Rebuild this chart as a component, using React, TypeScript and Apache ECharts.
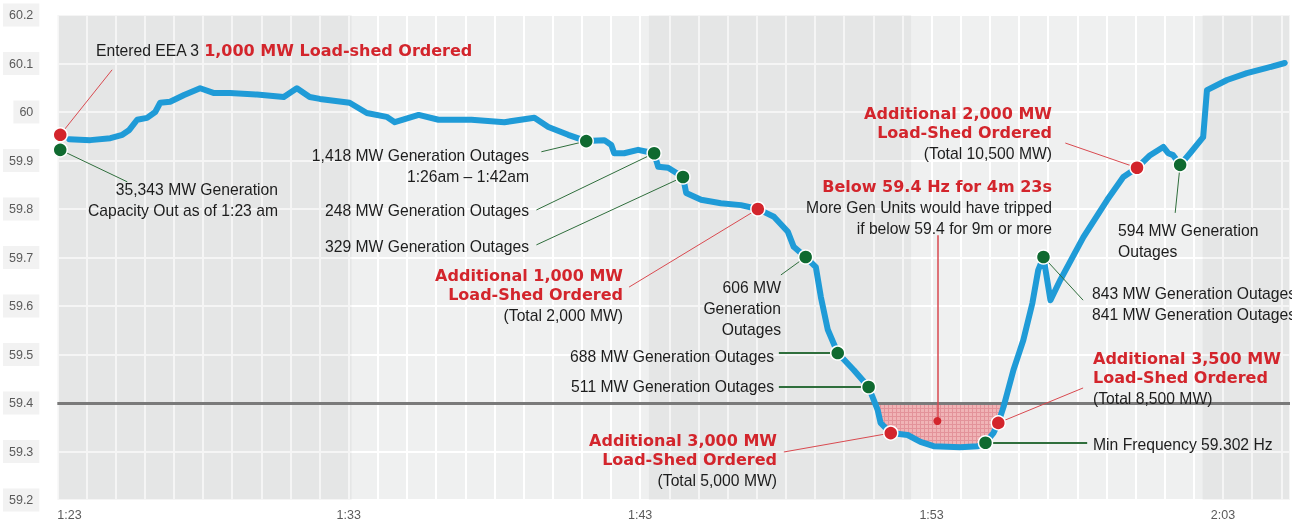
import React, { useEffect, useRef } from 'react';
import * as echarts from 'echarts';

// x values are minutes after 1:23 am; y values are frequency in Hz
const xTickLabels = ['1:23', '1:33', '1:43', '1:53', '2:03'];
const threshold = 59.4;

const frequency: [number, number][] = [
  [0.41, 59.944], [1.13, 59.942], [1.82, 59.946], [2.23, 59.953], [2.47, 59.963], [2.74, 59.984],
  [3.08, 59.988], [3.36, 60.0], [3.53, 60.019], [3.87, 60.021], [4.35, 60.035], [4.9, 60.049],
  [5.38, 60.039], [5.92, 60.039], [6.85, 60.036], [7.77, 60.031], [8.22, 60.049], [8.66, 60.031],
  [9.01, 60.027], [10.03, 60.019], [10.62, 59.998], [11.3, 59.99], [11.58, 59.979], [12.4, 59.994],
  [13.08, 59.984], [14.21, 59.984], [15.34, 59.979], [16.37, 59.988], [16.85, 59.969], [17.53, 59.953],
  [18.15, 59.94], [18.77, 59.942], [19.01, 59.932], [19.11, 59.915], [19.45, 59.915], [19.93, 59.922],
  [20.48, 59.915], [20.62, 59.887], [20.96, 59.885], [21.47, 59.866], [21.58, 59.833], [22.09, 59.819],
  [22.77, 59.812], [23.46, 59.808], [24.04, 59.8], [24.59, 59.784], [25.07, 59.753], [25.27, 59.722],
  [25.68, 59.701], [26.03, 59.68], [26.2, 59.619], [26.44, 59.551], [26.78, 59.503], [27.33, 59.468],
  [27.84, 59.433], [28.15, 59.386], [28.25, 59.359], [28.6, 59.338], [29.18, 59.334], [29.62, 59.32],
  [30.07, 59.311], [30.99, 59.309], [31.58, 59.311], [31.85, 59.318], [32.12, 59.338], [32.29, 59.359],
  [32.47, 59.392], [32.6, 59.421], [32.81, 59.468], [33.15, 59.53], [33.46, 59.606], [33.66, 59.674],
  [33.84, 59.701], [34.08, 59.612], [34.42, 59.654], [35.21, 59.742], [36.03, 59.819], [36.58, 59.866],
  [37.05, 59.885], [37.5, 59.911], [37.95, 59.928], [38.12, 59.915], [38.29, 59.911], [38.53, 59.891],
  [38.87, 59.915], [39.32, 59.948], [39.45, 60.045], [40.14, 60.066], [40.82, 60.08], [41.51, 60.091],
  [42.12, 60.101],
];

// portion of the curve below 59.4 Hz (shaded)
const belowThreshold: [number, number][] = [
  [28.05, 59.4], [28.15, 59.386], [28.25, 59.359], [28.6, 59.338], [29.18, 59.334], [29.62, 59.32],
  [30.07, 59.311], [30.99, 59.309], [31.58, 59.311], [31.85, 59.318], [32.12, 59.338], [32.29, 59.359],
  [32.47, 59.392], [32.5, 59.4],
];

const loadShedEvents: [number, number][] = [
  [0.1, 59.953], [24.04, 59.8], [28.6, 59.338], [32.29, 59.359], [37.05, 59.885],
];
const outageEvents: [number, number][] = [
  [0.1, 59.922], [18.15, 59.94], [20.48, 59.915], [21.47, 59.866], [25.68, 59.701],
  [26.78, 59.503], [27.84, 59.433], [31.85, 59.318], [33.84, 59.701], [38.53, 59.891],
];
const belowMarker: [number, number][] = [[30.2, 59.363]];

const darkBands: [number, number][] = [[0, 10.1], [20.3, 29.3], [39.3, 42.3]];

// leader lines: [from, to, colour kind, width]
const leaders: [[number, number], [number, number], 'r' | 'g', number][] = [
  [[0.1, 59.953], [1.88, 60.087], 'r', 1],
  [[0.1, 59.922], [2.4, 59.856], 'g', 1],
  [[18.15, 59.94], [16.61, 59.918], 'g', 1],
  [[20.48, 59.915], [16.44, 59.798], 'g', 1],
  [[21.47, 59.866], [16.44, 59.726], 'g', 1],
  [[24.04, 59.8], [19.62, 59.639], 'r', 1],
  [[25.68, 59.701], [24.83, 59.664], 'g', 1],
  [[26.78, 59.503], [24.76, 59.503], 'g', 2],
  [[27.84, 59.433], [24.76, 59.433], 'g', 2],
  [[28.6, 59.338], [24.93, 59.299], 'r', 1],
  [[32.29, 59.359], [35.2, 59.431], 'r', 1],
  [[31.85, 59.318], [35.34, 59.318], 'g', 2],
  [[33.84, 59.701], [35.2, 59.612], 'g', 1],
  [[37.05, 59.885], [34.59, 59.936], 'r', 1],
  [[38.53, 59.891], [38.36, 59.792], 'g', 1],
  [[30.2, 59.746], [30.2, 59.363], 'r', 1.5],
];

type Line = { t: string; red?: boolean };
const notes: { x: number; y: number; align: 'left' | 'right'; lines: Line[] }[] = [
  { x: 278, y: 189, align: 'right', lines: [{ t: '35,343 MW Generation' }, { t: 'Capacity Out as of 1:23 am' }] },
  { x: 529, y: 155, align: 'right', lines: [{ t: '1,418 MW Generation Outages' }, { t: '1:26am \u2013 1:42am' }] },
  { x: 529, y: 210, align: 'right', lines: [{ t: '248 MW Generation Outages' }] },
  { x: 529, y: 246, align: 'right', lines: [{ t: '329 MW Generation Outages' }] },
  { x: 623, y: 275, align: 'right', lines: [{ t: 'Additional 1,000 MW', red: true }, { t: 'Load-Shed Ordered', red: true }, { t: '(Total 2,000 MW)' }] },
  { x: 781, y: 287, align: 'right', lines: [{ t: '606 MW' }, { t: 'Generation' }, { t: 'Outages' }] },
  { x: 774, y: 356, align: 'right', lines: [{ t: '688 MW Generation Outages' }] },
  { x: 774, y: 386, align: 'right', lines: [{ t: '511 MW Generation Outages' }] },
  { x: 777, y: 440, align: 'right', lines: [{ t: 'Additional 3,000 MW', red: true }, { t: 'Load-Shed Ordered', red: true }, { t: '(Total 5,000 MW)' }] },
  { x: 1052, y: 186, align: 'right', lines: [{ t: 'Below 59.4 Hz for 4m 23s', red: true }, { t: 'More Gen Units would have tripped' }, { t: 'if below 59.4 for 9m or more' }] },
  { x: 1052, y: 113, align: 'right', lines: [{ t: 'Additional 2,000 MW', red: true }, { t: 'Load-Shed Ordered', red: true }, { t: '(Total 10,500 MW)' }] },
  { x: 1118, y: 230, align: 'left', lines: [{ t: '594 MW Generation' }, { t: 'Outages' }] },
  { x: 1092, y: 293, align: 'left', lines: [{ t: '843 MW Generation Outages' }, { t: '841 MW Generation Outages' }] },
  { x: 1093, y: 358, align: 'left', lines: [{ t: 'Additional 3,500 MW', red: true }, { t: 'Load-Shed Ordered', red: true }, { t: '(Total 8,500 MW)' }] },
  { x: 1093, y: 444, align: 'left', lines: [{ t: 'Min Frequency 59.302 Hz' }] },
];

const RED = '#d3252c';
const GREEN = '#0f6a30';
const BLUE = '#1f9bd7';
const BLACK_FONT = '15.7px "Liberation Sans", Arial, sans-serif';
const RED_FONT = 'bold 16px "DejaVu Sans", sans-serif';

function makeHatch(): any {
  const c = document.createElement('canvas');
  c.width = 4;
  c.height = 4;
  const ctx = c.getContext('2d');
  if (!ctx) return '#eba4a7';
  ctx.fillStyle = '#f0b4b6';
  ctx.fillRect(0, 0, 4, 4);
  ctx.fillStyle = '#e3939a';
  ctx.fillRect(0, 0, 4, 1);
  ctx.fillRect(0, 0, 1, 4);
  return { image: c, repeat: 'repeat' };
}

function buildGraphic() {
  const els: any[] = [];
  notes.forEach((n) => {
    let y = n.y;
    n.lines.forEach((l, i) => {
      if (i > 0) y += l.red ? 19.5 : 21;
      els.push({
        type: 'text',
        z: 100,
        silent: true,
        style: {
          text: l.t,
          x: n.x,
          y,
          align: n.align,
          verticalAlign: 'middle',
          font: l.red ? RED_FONT : BLACK_FONT,
          fill: l.red ? RED : '#1d1d1d',
        },
      });
    });
  });
  els.push({
    type: 'text',
    z: 100,
    silent: true,
    style: {
      text: '{k|Entered EEA 3 }{r|1,000 MW Load-shed Ordered}',
      x: 96,
      y: 50,
      verticalAlign: 'middle',
      rich: {
        k: { font: BLACK_FONT, fill: '#1d1d1d' },
        r: { font: RED_FONT, fill: RED },
      },
    },
  });
  els.push({ type: 'rect', z: 101, silent: true, shape: { x: 1292, y: 0, width: 20, height: 521 }, style: { fill: '#ffffff' } });
  return els;
}

export default function App() {
  const ref = useRef<HTMLDivElement>(null);
  useEffect(() => {
    const chart = echarts.init(ref.current!, null, { renderer: 'svg' });
    const hatch = makeHatch();
    const option: any = {
      animation: false,
      grid: { left: 55, right: 17, top: 15, bottom: 21, show: true, backgroundColor: '#eff0f0', borderWidth: 0 },
      xAxis: {
        type: 'value',
        min: 0,
        max: 42.3,
        interval: 1,
        axisLine: { show: false },
        axisTick: { show: false },
        splitLine: { show: true, lineStyle: { color: '#ffffff', width: 2 } },
        axisLabel: {
          color: '#5a5a5a',
          fontSize: 12.5,
          fontFamily: '"Liberation Sans", Arial, sans-serif',
          margin: 8,
          alignMinLabel: 'left',
          showMaxLabel: false,
          formatter: (v: number) => {
            const m = Math.round(v);
            if (Math.abs(v - m) > 1e-6 || m % 10 !== 0) return '';
            return xTickLabels[m / 10] ?? '';
          },
        },
      },
      yAxis: {
        type: 'value',
        min: 59.2,
        max: 60.2,
        interval: 0.1,
        axisLine: { show: false },
        axisTick: { show: false },
        splitLine: { show: true, lineStyle: { color: '#ffffff', width: 2 } },
        axisLabel: {
          color: '#5a5a5a',
          fontSize: 12.5,
          fontFamily: '"Liberation Sans", Arial, sans-serif',
          margin: 18,
          backgroundColor: '#f2f2f2',
          padding: [5, 6],
          formatter: (v: number) => String(Math.round(v * 10) / 10),
        },
      },
      series: [
        {
          type: 'custom',
          z: 2,
          data: belowThreshold,
          renderItem: (params: any, api: any) => {
            if (params.dataIndex !== 0) return null;
            const pts = belowThreshold.map((p) => api.coord(p));
            return { type: 'polygon', shape: { points: pts }, style: { fill: hatch, stroke: 'none' } };
          },
          markArea: {
            silent: true,
            z: 1,
            itemStyle: { color: 'rgba(0,0,0,0.04)' },
            data: darkBands.map(([a, b]) => [{ xAxis: a }, { xAxis: b }]),
          },
          markLine: {
            silent: true,
            z: 3,
            symbol: 'none',
            label: { show: false },
            lineStyle: { color: '#7a7a7a', width: 3, type: 'solid' },
            data: [{ yAxis: threshold }],
          },
        },
        {
          type: 'line',
          z: 4,
          data: frequency,
          showSymbol: false,
          symbol: 'none',
          lineStyle: { color: BLUE, width: 6, join: 'round', cap: 'round' },
        },
        {
          type: 'scatter',
          z: 10,
          data: loadShedEvents,
          symbolSize: 14,
          itemStyle: { color: RED, borderColor: '#ffffff', borderWidth: 1.5, opacity: 1 },
          markLine: {
            silent: true,
            z: 5,
            symbol: 'none',
            label: { show: false },
            data: leaders.map(([a, b, c, w]) => [
              { coord: a, lineStyle: { color: c === 'r' ? '#d94a50' : '#2f6e3c', width: w, type: 'solid' } },
              { coord: b },
            ]),
          },
        },
        {
          type: 'scatter',
          z: 10,
          data: outageEvents,
          symbolSize: 14,
          itemStyle: { color: GREEN, borderColor: '#ffffff', borderWidth: 1.5, opacity: 1 },
        },
        {
          type: 'scatter',
          z: 10,
          data: belowMarker,
          symbolSize: 8,
          itemStyle: { color: RED, opacity: 1 },
        },
      ],
      graphic: buildGraphic(),
    };
    chart.setOption(option);
    return () => chart.dispose();
  }, []);
  return <div ref={ref} style={{ position: 'fixed', left: 0, top: 0, width: 1307, height: 521 }} />;
}
